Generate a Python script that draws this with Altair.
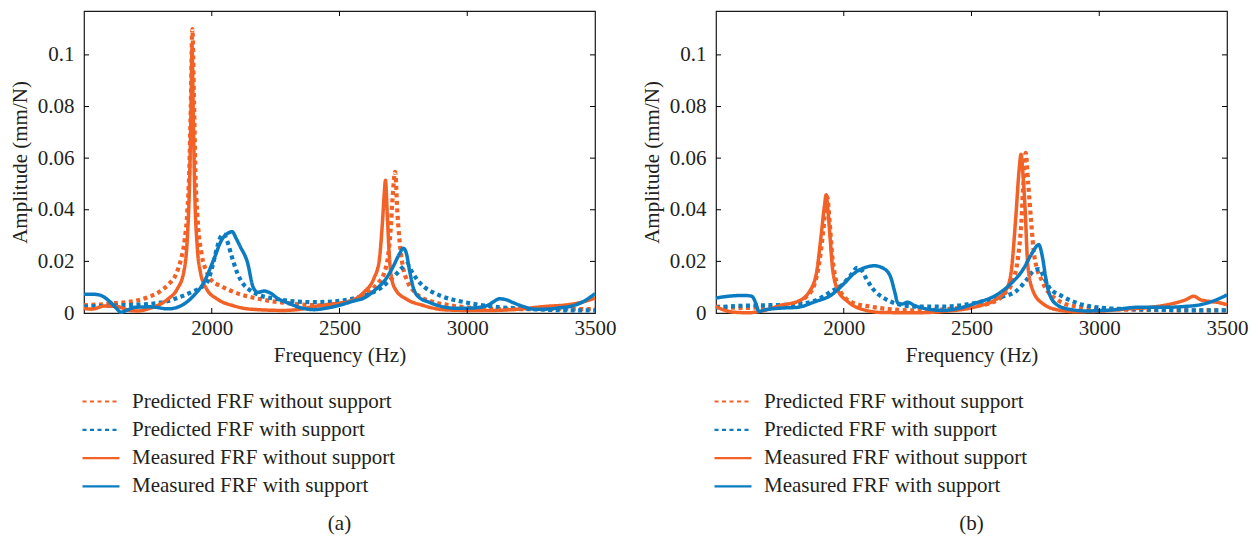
import altair as alt
import pandas as pd

SERIES = ["Predicted FRF without support", "Predicted FRF with support",
          "Measured FRF without support", "Measured FRF with support"]
COLORS = ["#F26126", "#0B7CC1", "#F26126", "#0B7CC1"]
DASHES = [[4, 3.5], [4, 3.5], [1, 0], [1, 0]]
XTICKS = [2000, 2500, 3000, 3500]
YTICKS = [0, 0.02, 0.04, 0.06, 0.08, 0.1]
XDOMAIN = [1500, 3500]
YDOMAIN = [0, 0.117]

# ---------------- panel (a) ----------------
A_PRED_WO = [(1500,0.003),(1560,0.0033),(1620,0.0038),(1700,0.0047),(1760,0.0065),(1800,0.0085),
             (1830,0.011),(1860,0.015),(1880,0.021),(1895,0.029),(1905,0.04),(1912,0.055),(1918,0.08),
             (1924,0.11),(1930,0.085),(1936,0.055),(1945,0.036),(1960,0.023),(1980,0.016),(2000,0.0125),
             (2035,0.0105),(2070,0.0088),(2110,0.0073),(2160,0.006),(2220,0.0048),(2280,0.004),
             (2350,0.0033),(2420,0.003),(2480,0.0035),(2530,0.0042),(2580,0.006),(2620,0.0085),
             (2650,0.0115),(2675,0.0155),(2690,0.022),(2700,0.032),(2708,0.045),(2718,0.0547),
             (2726,0.04),(2735,0.028),(2748,0.018),(2765,0.0125),(2795,0.008),(2830,0.0055),
             (2860,0.0045),(2950,0.0027),(3050,0.0018),(3150,0.0015),(3250,0.0015),(3350,0.0015),
             (3500,0.0015)]
A_PRED_W = [(1500,0.0025),(1600,0.0028),(1700,0.0032),(1800,0.004),(1870,0.006),(1930,0.0085),
            (1960,0.0100),(1985,0.0125),(2005,0.019),(2020,0.025),(2035,0.0295),(2047,0.0305),
            (2060,0.028),(2078,0.022),(2100,0.0155),(2125,0.011),(2150,0.0088),(2190,0.0068),
            (2250,0.0055),(2300,0.0047),(2400,0.0042),(2500,0.0047),(2570,0.006),(2620,0.0075),
            (2665,0.010),(2700,0.013),(2728,0.0157),(2750,0.018),(2765,0.019),(2780,0.0165),
            (2800,0.0135),(2835,0.0098),(2870,0.0078),(2900,0.0065),(2990,0.0042),(3060,0.003),
            (3120,0.0023),(3200,0.0018),(3300,0.0013),(3400,0.001),(3500,0.001)]
A_MEAS_WO = [(1500,0.0018),(1530,0.0015),(1580,0.0027),(1630,0.0025),(1680,0.001),(1710,0.0008),
             (1760,0.0019),(1800,0.0035),(1830,0.0055),(1865,0.0093),(1890,0.0157),(1905,0.03),
             (1913,0.05),(1919,0.08),(1923,0.103),(1928,0.075),(1934,0.045),(1943,0.026),(1956,0.0157),
             (1980,0.0093),(2020,0.0055),(2085,0.0028),(2150,0.0015),(2280,0.001),(2350,0.0015),
             (2400,0.0025),(2460,0.0032),(2530,0.0042),(2595,0.008),(2635,0.0135),(2655,0.02),
             (2668,0.035),(2675,0.046),(2680,0.0514),(2687,0.038),(2695,0.022),(2705,0.013),
             (2720,0.009),(2760,0.0055),(2825,0.003),(2915,0.0012),(3000,0.001),(3100,0.001),
             (3200,0.0015),(3300,0.0025),(3400,0.0033),(3460,0.0045),(3500,0.0058)]
A_MEAS_W = [(1500,0.0072),(1530,0.0073),(1560,0.007),(1600,0.0045),(1625,0.002),(1645,0.0003),
            (1670,0.0012),(1700,0.0022),(1760,0.0024),(1830,0.0016),(1890,0.0034),(1930,0.0068),
            (1970,0.012),(2005,0.02),(2040,0.0285),(2065,0.031),(2080,0.0315),(2095,0.029),
            (2110,0.026),(2140,0.0195),(2162,0.01),(2180,0.008),(2205,0.0085),(2228,0.0078),
            (2260,0.0055),(2300,0.0038),(2350,0.002),(2400,0.0013),(2450,0.0019),(2500,0.003),
            (2550,0.0045),(2600,0.006),(2640,0.009),(2680,0.013),(2710,0.018),(2735,0.023),
            (2750,0.0251),(2762,0.023),(2775,0.016),(2790,0.0095),(2810,0.0062),(2850,0.0042),
            (2900,0.0025),(2960,0.0018),(3030,0.002),(3080,0.003),(3105,0.0045),(3125,0.0055),
            (3150,0.0052),(3180,0.004),(3220,0.0025),(3260,0.0015),(3310,0.0015),(3360,0.002),
            (3410,0.0027),(3450,0.0042),(3500,0.0075)]

# ---------------- panel (b) ----------------
B_PRED_WO = [(1500,0.0025),(1600,0.002),(1700,0.0022),(1800,0.0035),(1850,0.006),(1885,0.011),
             (1905,0.02),(1920,0.032),(1935,0.045),(1945,0.035),(1955,0.022),(1965,0.015),
             (1990,0.0078),(2040,0.0038),(2100,0.0025),(2150,0.0018),(2280,0.001),(2400,0.0015),
             (2500,0.0025),(2580,0.004),(2630,0.0075),(2660,0.012),(2680,0.02),(2695,0.035),
             (2703,0.05),(2712,0.062),(2722,0.05),(2733,0.036),(2746,0.022),(2778,0.012),
             (2830,0.0055),(2910,0.0025),(3040,0.0015),(3200,0.0012),(3350,0.001),(3500,0.001)]
B_PRED_W = [(1500,0.0022),(1600,0.0028),(1700,0.003),(1800,0.0033),(1880,0.0045),(1950,0.0083),
            (2000,0.0115),(2030,0.015),(2052,0.0175),(2070,0.0165),(2090,0.013),(2113,0.0095),
            (2160,0.0056),(2210,0.0035),(2280,0.0025),(2390,0.0025),(2520,0.004),(2620,0.0063),
            (2675,0.0085),(2713,0.0125),(2745,0.0165),(2765,0.017),(2785,0.0135),(2805,0.0098),
            (2855,0.0065),(2935,0.0032),(3040,0.0018),(3120,0.0015),(3250,0.0012),(3400,0.001),
            (3500,0.001)]
B_MEAS_WO = [(1500,0.0025),(1530,0.0012),(1570,0.0003),(1625,0.0001),(1690,0.001),(1755,0.003),
             (1820,0.0045),(1860,0.0075),(1892,0.015),(1911,0.0295),(1925,0.042),(1931,0.0458),
             (1938,0.04),(1946,0.03),(1957,0.0166),(1977,0.0089),(2016,0.0044),(2080,0.0012),
             (2150,0.0002),(2280,0.0001),(2390,0.0006),(2520,0.0025),(2596,0.0053),(2635,0.0089),
             (2654,0.015),(2674,0.038),(2686,0.055),(2694,0.0615),(2702,0.053),(2710,0.04),
             (2720,0.019),(2739,0.009),(2778,0.0037),(2843,0.0011),(2910,0.0005),(3000,0.0007),
             (3100,0.0015),(3200,0.0022),(3280,0.0035),(3340,0.0052),(3370,0.0065),(3395,0.0052),
             (3430,0.0045),(3470,0.004),(3500,0.0032)]
B_MEAS_W = [(1500,0.0058),(1560,0.0066),(1610,0.0068),(1640,0.0065),(1655,0.004),(1668,0.0006),
            (1690,0.0012),(1755,0.0019),(1820,0.0022),(1885,0.0043),(1950,0.0069),(2000,0.0113),
            (2040,0.0153),(2080,0.0175),(2120,0.0183),(2160,0.017),(2185,0.0135),(2200,0.008),
            (2212,0.0038),(2230,0.0035),(2250,0.0042),(2275,0.003),(2330,0.0015),(2390,0.001),
            (2450,0.0018),(2518,0.0039),(2596,0.0069),(2648,0.0108),(2700,0.0166),(2739,0.0235),
            (2763,0.0265),(2778,0.0215),(2790,0.014),(2800,0.009),(2830,0.0035),(2880,0.0015),
            (2950,0.0008),(3050,0.0012),(3150,0.0022),(3250,0.0022),(3330,0.0025),(3400,0.0033),
            (3450,0.0048),(3500,0.007)]

W, H = 511, 302
FONT = "Liberation Serif"
TXT = "#231f20"
FS = 21


def to_frame(curves):
    rows = []
    for name, pts in zip(SERIES, curves):
        for i, (f, a) in enumerate(pts):
            rows.append({"series": name, "freq": f, "amp": a, "i": i})
    return pd.DataFrame(rows)


def panel(curves, caption):
    df = to_frame(curves)
    xs = alt.Scale(domain=XDOMAIN, nice=False, zero=False)
    ys = alt.Scale(domain=YDOMAIN, nice=False, zero=False)
    common = dict(ticks=False, domain=False, grid=False, labelFont=FONT, labelFontSize=FS,
                  labelColor=TXT, titleFont=FONT, titleFontSize=FS, titleColor=TXT,
                  titleFontWeight="normal")
    xaxis = alt.Axis(values=XTICKS, format="d", title="Frequency (Hz)", labelPadding=4,
                     titlePadding=6, labelFlush=False, **common)
    yaxis = alt.Axis(values=YTICKS, format="~g", title="Amplitude (mm/N)", labelPadding=10,
                     titlePadding=7, **common)
    leg = alt.Legend(title=None, orient="none", legendX=-3, legendY=380, direction="vertical",
                     symbolType="stroke", symbolSize=1369, symbolStrokeWidth=2.2,
                     labelFont=FONT, labelFontSize=FS, labelColor=TXT, labelOffset=11,
                     labelLimit=500, rowPadding=6.3, clipHeight=21)
    color = alt.Color("series:N", scale=alt.Scale(domain=SERIES, range=COLORS), legend=leg)
    dash = alt.StrokeDash("series:N", scale=alt.Scale(domain=SERIES, range=DASHES), legend=leg)
    x = alt.X("freq:Q", scale=xs, axis=xaxis)
    y = alt.Y("amp:Q", scale=ys, axis=yaxis)
    base = alt.Chart(df).encode(x=x, y=y, color=color, strokeDash=dash,
                                detail="series:N", order="i:Q")
    dotted = base.transform_filter(alt.FieldOneOfPredicate(field="series", oneOf=SERIES[:2])) \
        .mark_line(strokeWidth=4.2, interpolate="monotone", strokeCap="butt")
    solid = base.transform_filter(alt.FieldOneOfPredicate(field="series", oneOf=SERIES[2:])) \
        .mark_line(strokeWidth=3.5, interpolate="monotone")

    xt = pd.DataFrame({"freq": XTICKS[:-1]})
    yt = pd.DataFrame({"amp": YTICKS[1:]})
    tk = dict(color="black", strokeWidth=1)
    tb = alt.Chart(xt).mark_rule(**tk).encode(x=x, y=alt.value(H), y2=alt.value(H - 5))
    tt = alt.Chart(xt).mark_rule(**tk).encode(x=x, y=alt.value(0), y2=alt.value(5))
    tl = alt.Chart(yt).mark_rule(**tk).encode(y=y, x=alt.value(0), x2=alt.value(5))
    tr = alt.Chart(yt).mark_rule(**tk).encode(y=y, x=alt.value(W), x2=alt.value(W - 5))
    return alt.layer(dotted, solid, tb, tt, tl, tr).properties(
        width=W, height=H,
        title=alt.TitleParams(text=caption, orient="bottom", anchor="middle", font=FONT,
                              fontSize=FS, fontWeight="normal", color=TXT, offset=16))


pa = panel([A_PRED_WO, A_PRED_W, A_MEAS_WO, A_MEAS_W], "(a)")
pb = panel([B_PRED_WO, B_PRED_W, B_MEAS_WO, B_MEAS_W], "(b)")

chart = alt.hconcat(pa, pb, spacing=23).resolve_scale(
    color="independent", strokeDash="independent"
).resolve_legend(color="independent", strokeDash="independent").properties(
    padding={"left": 0, "top": 1, "right": 0, "bottom": 0}
).configure(background="white").configure_view(stroke="#1a1a1a", strokeWidth=1.2)

chart.save("out.html", embed_options={"renderer": "svg", "actions": False})
